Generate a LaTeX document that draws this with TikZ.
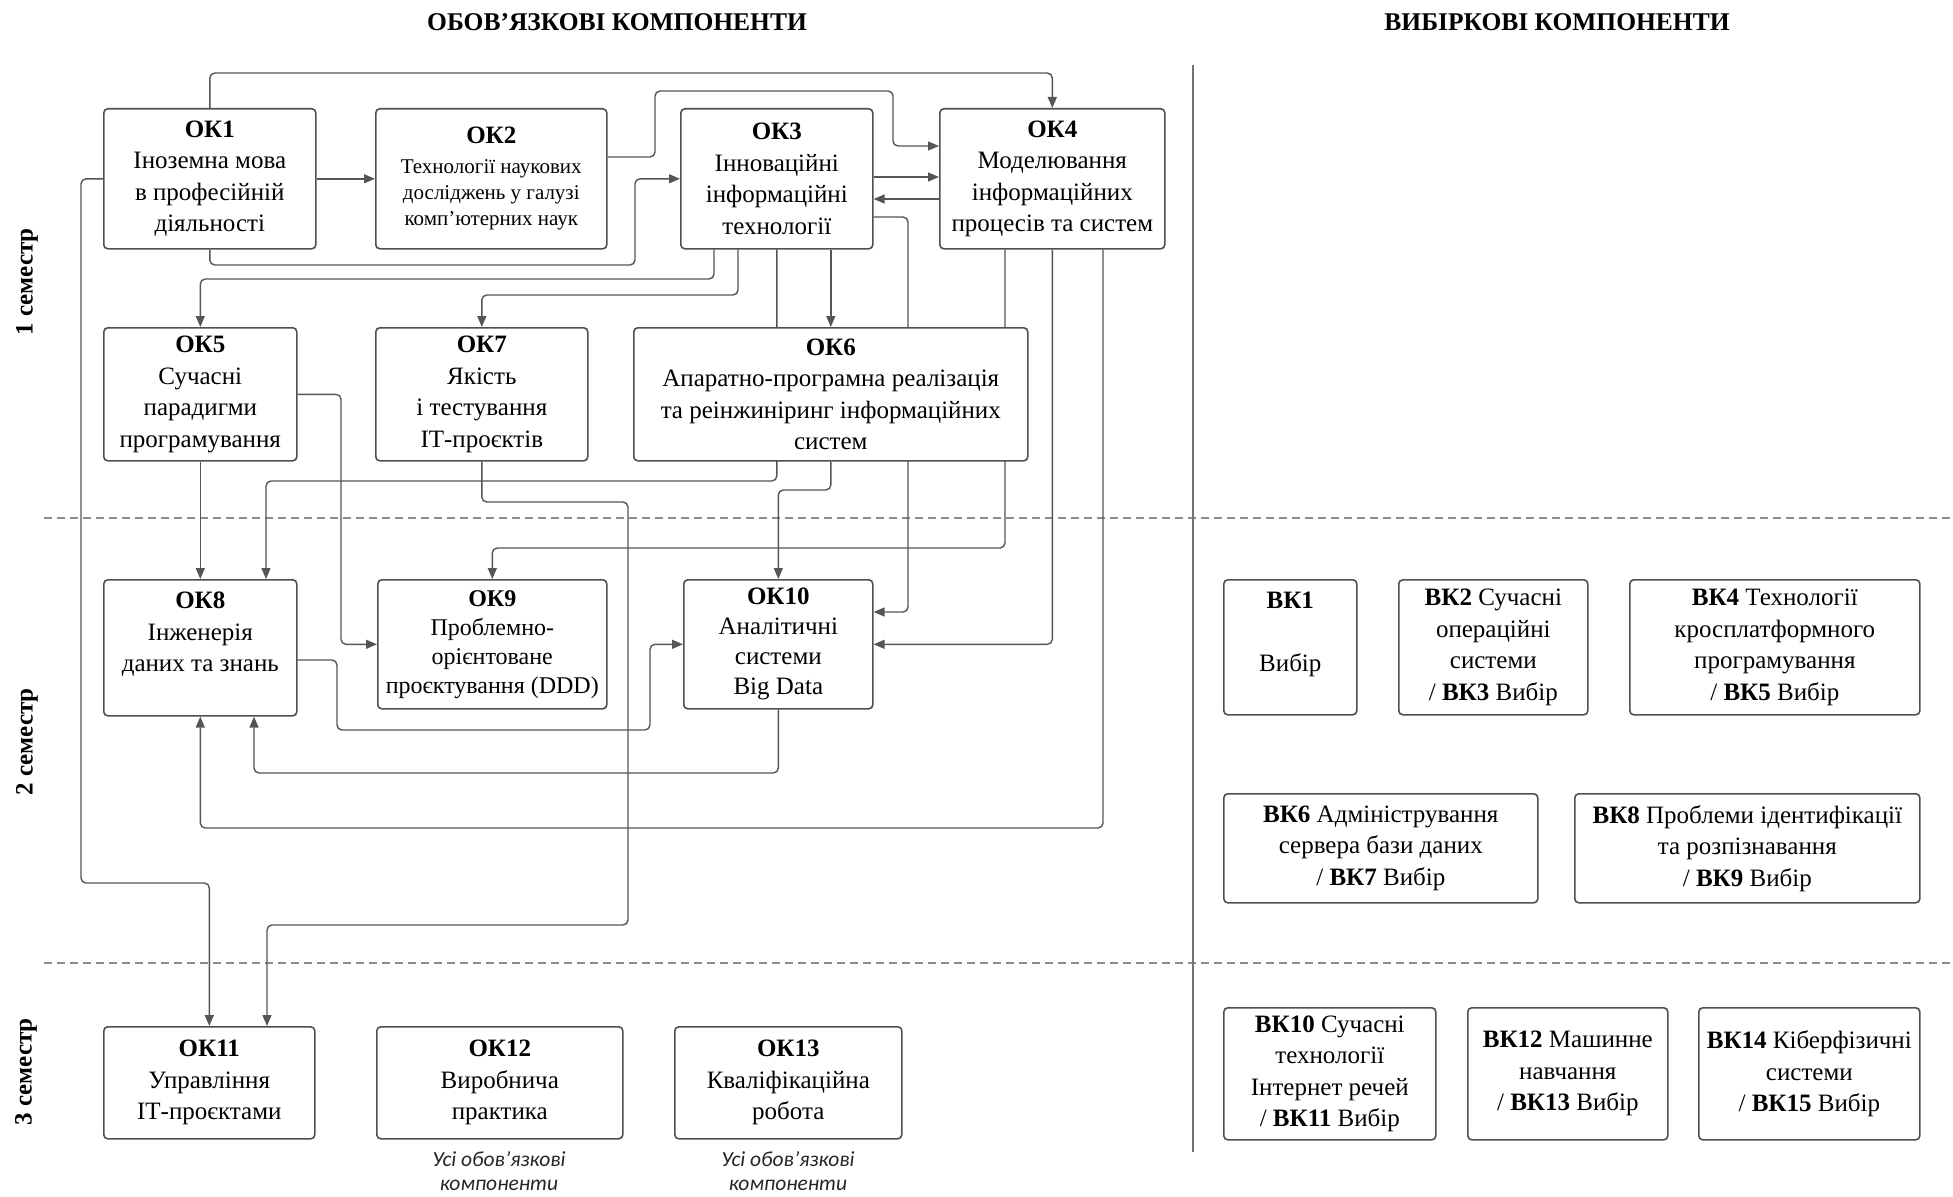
\documentclass[tikz,border=0pt]{standalone}
\usepackage{fontspec}
\setmainfont{Liberation Serif}
\newfontfamily\boxfont{Liberation Serif}
\newfontfamily\notefont{Carlito}
\usetikzlibrary{arrows.meta,backgrounds}
\definecolor{linec}{HTML}{555555}
\definecolor{boxc}{HTML}{505050}
\definecolor{dashc}{HTML}{8C8C8C}
\tikzset{
  box/.style={draw=boxc, line width=1.6pt, rounded corners=4pt, fill=white,
    align=center, inner sep=2pt, anchor=north west,
    font=\boxfont\fontsize{25}{31.5}\selectfont},
  conn/.style={draw=linec, line width=1.4pt, rounded corners=5pt,
    -{Triangle[length=11pt,width=9pt]}},
  sepline/.style={draw=dashc, line width=1.5pt, dash pattern=on 8pt off 5pt},
  vline/.style={draw=black!55, line width=1.5pt},
  titlelbl/.style={font=\boxfont\bfseries\fontsize{25.5}{28}\selectfont},
  semlbl/.style={font=\boxfont\bfseries\fontsize{25}{28}\selectfont, rotate=90},
  notelbl/.style={font=\notefont\itshape\fontsize{21.5}{24}\selectfont, text=black!85, align=center},
}
\begin{document}
\begin{tikzpicture}[x=1pt,y=-1pt]
\useasboundingbox (0,0) rectangle (1953,1196);

% titles
\node[titlelbl] (t1) at (617,22) {ОБОВ’ЯЗКОВІ КОМПОНЕНТИ};
\node[titlelbl] (t2) at (1557,22) {ВИБІРКОВІ КОМПОНЕНТИ};
\node[semlbl] (s1) at (27,282) {1 семестр};
\node[semlbl] (s2) at (27,742) {2 семестр};
\node[semlbl] (s3) at (26,1072) {3 семестр};

% boxes
\node[box, minimum width=212pt, minimum height=140pt] (ok1) at (103,108)
  {\textbf{ОК1}\\Іноземна мова\\в професійній\\діяльності};
\node[box, minimum width=231pt, minimum height=140pt, font=\boxfont\fontsize{21}{26}\selectfont] (ok2) at (375,108)
  {{\fontsize{25}{26}\selectfont\bfseries ОК2}\\[4pt]Технології наукових\\досліджень у галузі\\комп’ютерних наук};
\node[box, minimum width=192pt, minimum height=140pt] (ok3) at (680,108)
  {\textbf{ОК3}\\Інноваційні\\інформаційні\\технології};
\node[box, minimum width=225pt, minimum height=140pt] (ok4) at (939,108)
  {\textbf{ОК4}\\Моделювання\\інформаційних\\процесів та систем};
\node[box, minimum width=193pt, minimum height=133pt] (ok5) at (103,327)
  {\textbf{ОК5}\\Сучасні\\парадигми\\програмування};
\node[box, minimum width=212pt, minimum height=133pt] (ok7) at (375,327)
  {\textbf{ОК7}\\Якість\\і тестування\\ІТ-проєктів};
\node[box, minimum width=394pt, minimum height=133pt] (ok6) at (633,327)
  {\textbf{ОК6}\\Апаратно-програмна реалізація\\та реінжиніринг інформаційних\\систем};
\node[box, minimum width=193pt, minimum height=136pt] (ok8) at (103,579)
  {\textbf{ОК8}\\Інженерія\\даних та знань\\\mbox{}};
\node[box, minimum width=229pt, minimum height=129pt, font=\boxfont\fontsize{24}{29}\selectfont] (ok9) at (377,579)
  {\textbf{ОК9}\\Проблемно-\\орієнтоване\\проєктування (DDD)};
\node[box, minimum width=189pt, minimum height=129pt, font=\boxfont\fontsize{25}{30}\selectfont] (ok10) at (683,579)
  {\textbf{ОК10}\\Аналітичні\\системи\\Big Data};
\node[box, minimum width=211pt, minimum height=112pt] (ok11) at (103,1026)
  {\textbf{ОК11}\\Управління\\ІТ-проєктами};
\node[box, minimum width=246pt, minimum height=112pt] (ok12) at (376,1026)
  {\textbf{ОК12}\\Виробнича\\практика};
\node[box, minimum width=227pt, minimum height=112pt] (ok13) at (674,1026)
  {\textbf{ОК13}\\Кваліфікаційна\\робота};

\node[box, minimum width=133pt, minimum height=135pt] (vk1) at (1223,579)
  {\textbf{ВК1}\\\mbox{}\\Вибір\\\mbox{}};
\node[box, minimum width=189pt, minimum height=135pt] (vk2) at (1398,579)
  {\textbf{ВК2} Сучасні\\операційні\\системи\\/ \textbf{ВК3} Вибір};
\node[box, minimum width=290pt, minimum height=135pt] (vk4) at (1629,579)
  {\textbf{ВК4} Технології\\кросплатформного\\програмування\\/ \textbf{ВК5} Вибір};
\node[box, minimum width=314pt, minimum height=109pt] (vk6) at (1223,793)
  {\textbf{ВК6} Адміністрування\\сервера бази даних\\/ \textbf{ВК7} Вибір};
\node[box, minimum width=345pt, minimum height=109pt] (vk8) at (1574,793)
  {\textbf{ВК8} Проблеми ідентифікації\\та розпізнавання\\/ \textbf{ВК9} Вибір};
\node[box, minimum width=212pt, minimum height=132pt] (vk10) at (1223,1007)
  {\textbf{ВК10} Сучасні\\технології\\Інтернет речей\\/ \textbf{ВК11} Вибір};
\node[box, minimum width=200pt, minimum height=132pt] (vk12) at (1467,1007)
  {\textbf{ВК12} Машинне\\навчання\\/ \textbf{ВК13} Вибір};
\node[box, minimum width=221pt, minimum height=132pt] (vk14) at (1698,1007)
  {\textbf{ВК14} Кіберфізичні\\системи\\/ \textbf{ВК15} Вибір};

\node[notelbl] (n12) at (499,1171) {Усі обов’язкові\\компоненти};
\node[notelbl] (n13) at (788,1171) {Усі обов’язкові\\компоненти};

\begin{scope}[on background layer]
% separators
\draw[sepline] (44,518) -- (1953,518);
\draw[sepline] (44,963) -- (1953,963);
\draw[vline] (1193,65) -- (1193,1152);

% connectors
\draw[conn] (ok1.north) -- (ok1.north |- 0,73) -| (ok4.north);
\draw[conn] (ok1.east) -- (ok2.west);
\draw[conn] (ok2.east |- 0,157) -| (655,91) -| (893,146) -- (ok4.west |- 0,146);
\draw[conn] (ok1.south) |- (635,265) |- (ok3.west);
\draw[conn] (ok1.west) -| (81,883) -| (ok11.north);
\draw[conn] (ok3.east |- 0,177) -- (ok4.west |- 0,177);
\draw[conn] (ok4.west |- 0,199) -- (ok3.east |- 0,199);
\draw[conn] (ok3.south -| 714,0) |- (ok5.north |- 0,279) -- (ok5.north);
\draw[conn] (ok3.south -| 738,0) |- (ok7.north |- 0,295) -- (ok7.north);
\draw[conn] (ok3.south) |- (266,481) -- (ok8.north -| 266,0);
\draw[conn] (ok3.south -| ok6.north) -- (ok6.north);
\draw[conn] (ok3.east |- 0,217) -| (908,612) -- (ok10.east |- 0,612);
\draw[conn] (ok4.south -| 1005,0) |- (ok9.north |- 0,548) -- (ok9.north);
\draw[conn] (ok4.south) |- (ok10.east);
\draw[conn] (ok4.south -| 1103,0) |- (ok8.south |- 0,828) -- (ok8.south);
\draw[conn] (ok5.south) -- (ok8.north);
\draw[conn] (ok5.east) -| (ok9.west -| 341,0) -- (ok9.west);
\draw[conn] (ok7.south) |- (628,502) |- (267,925) -- (ok11.north -| 267,0);
\draw[conn] (ok6.south) |- (ok10.north |- 0,490) -- (ok10.north);
\draw[conn] (ok8.east |- 0,660) -| (337,730) -| (ok10.west -| 650,0) -- (ok10.west);
\draw[conn] (ok10.south) |- (254,773) -- (ok8.south -| 254,0);
\end{scope}
\end{tikzpicture}
\end{document}
